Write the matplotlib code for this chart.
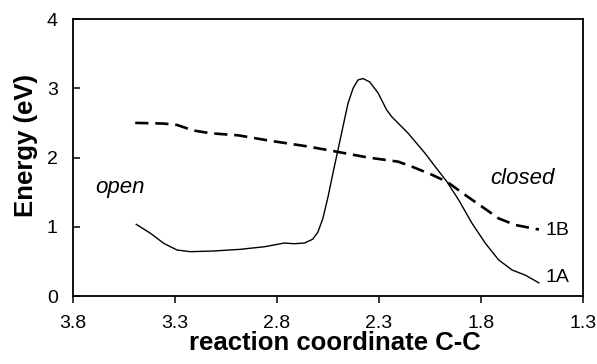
import matplotlib
matplotlib.use("Agg")
import matplotlib.pyplot as plt

plt.rcParams['font.family'] = ['Liberation Sans', 'DejaVu Sans']

# curve 1A (solid)
x_1A = [3.49, 3.42, 3.355, 3.29, 3.224, 3.11, 2.98, 2.86, 2.764, 2.715, 2.665,
        2.625, 2.60, 2.575, 2.55, 2.526, 2.501, 2.477, 2.452, 2.427, 2.403,
        2.378, 2.345, 2.304, 2.263, 2.238, 2.157, 2.074, 2.025, 1.967, 1.91,
        1.844, 1.778, 1.713, 1.647, 1.582, 1.516]
y_1A = [1.035, 0.905, 0.76, 0.664, 0.64, 0.65, 0.674, 0.712, 0.765, 0.755, 0.765,
        0.82, 0.92, 1.12, 1.43, 1.77, 2.11, 2.44, 2.78, 3.00, 3.12,
        3.14, 3.09, 2.93, 2.69, 2.59, 2.35, 2.06, 1.87, 1.65, 1.39,
        1.05, 0.76, 0.52, 0.375, 0.30, 0.19]

# curve 1B (dashed)
x_1B = [3.495, 3.355, 3.29, 3.21, 3.125, 2.99, 2.83, 2.65, 2.50, 2.354, 2.206,
        2.14, 2.04, 1.967, 1.878, 1.795, 1.713, 1.631, 1.516]
y_1B = [2.50, 2.49, 2.47, 2.39, 2.35, 2.32, 2.24, 2.16, 2.08, 2.00, 1.94,
        1.87, 1.75, 1.65, 1.46, 1.29, 1.12, 1.025, 0.96]

xticks = [3.8, 3.3, 2.8, 2.3, 1.8, 1.3]
yticks = [0, 1, 2, 3, 4]

fig = plt.figure(figsize=(5.97, 3.64), dpi=100)
ax = fig.add_axes([0.1223, 0.1868, 0.8542, 0.761])

ax.plot(x_1A, y_1A, color='black', lw=1.0)
ax.plot(x_1B, y_1B, color='black', lw=1.9, dashes=(5.0, 2.6))

ax.set_xlim(3.8, 1.3)
ax.set_ylim(0, 4)
ax.set_xticks(xticks)
ax.set_xticklabels(['%.1f' % t for t in xticks])
ax.set_yticks(yticks)
ax.tick_params(axis='x', direction='out', length=5, width=1.1, labelsize=14, pad=9)
ax.tick_params(axis='y', direction='in', length=5, width=1.1, labelsize=14, pad=11)
for s in ax.spines.values():
    s.set_linewidth(1.3)

ax.text(1.485, 0.95, '1B', fontsize=14, va='center', ha='left')
ax.text(1.485, 0.26, '1A', fontsize=14, va='center', ha='left')
ax.text(3.57, 1.56, 'open', fontsize=16, style='italic', ha='center', va='center')
ax.text(1.598, 1.70, 'closed', fontsize=16, style='italic', ha='center', va='center')

ax.set_xlabel('reaction coordinate C-C', fontsize=18.5, fontweight='bold', va='baseline')
ax.xaxis.set_label_coords(0.514, -0.195)
ax.set_ylabel('Energy (eV)', fontsize=18.5, fontweight='bold', va='baseline')
ax.yaxis.set_label_coords(-0.078, 0.542)

fig.savefig('out.png', dpi=100)
